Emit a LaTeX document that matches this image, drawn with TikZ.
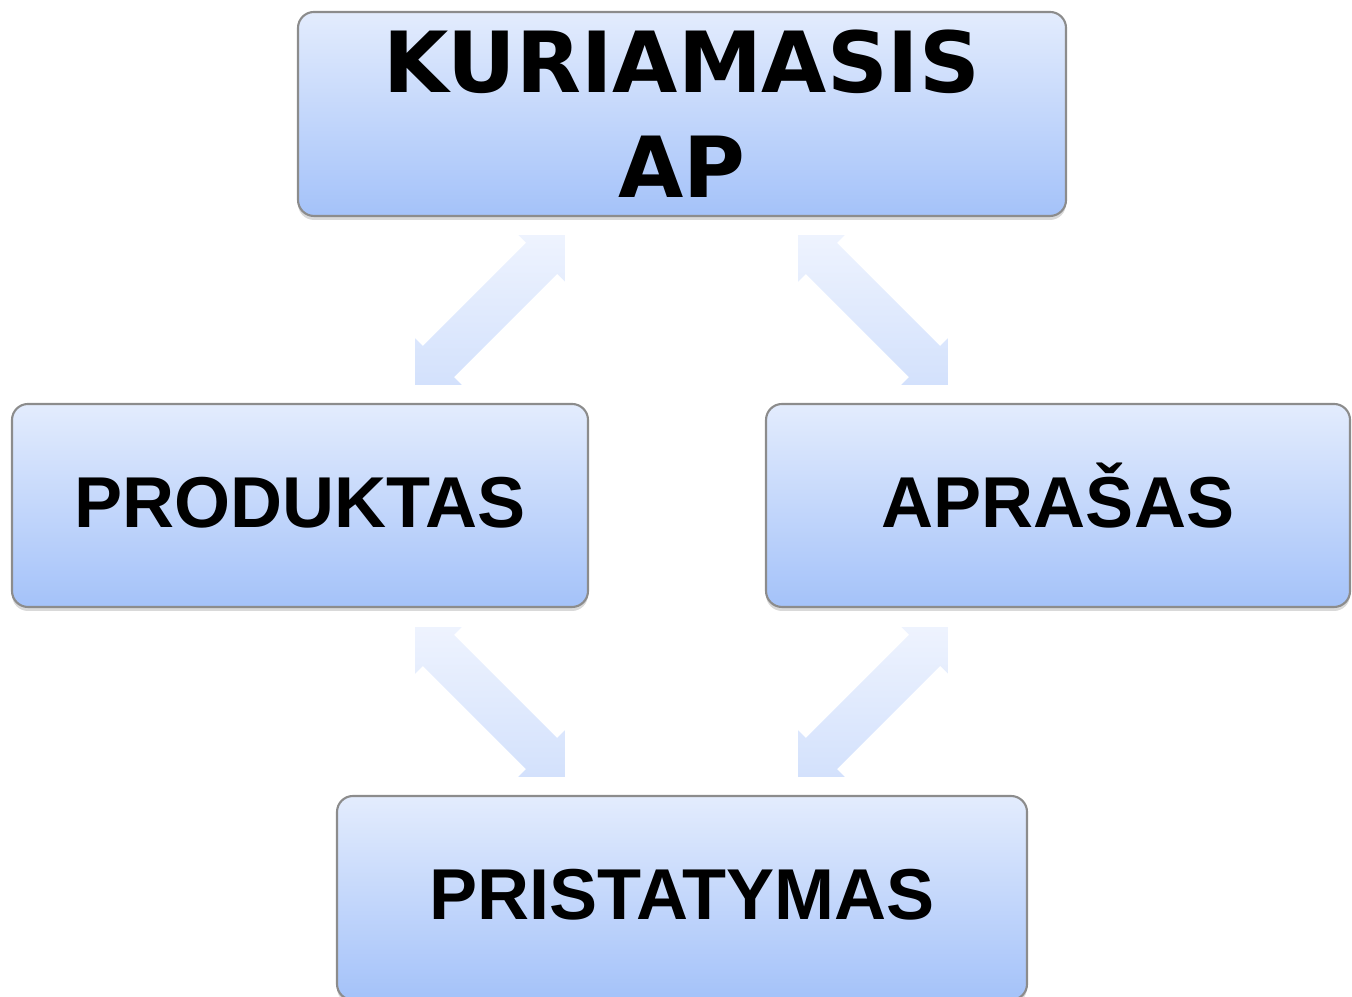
\documentclass[tikz,border=0pt]{standalone}
\usepackage{fontspec}
\setmainfont{Liberation Sans}
\newfontfamily\heavyfont{DejaVu Sans}
\usepackage{tikz}
\usetikzlibrary{shadows}

\definecolor{boxtop}{HTML}{E3ECFD}
\definecolor{boxbottom}{HTML}{A4C2F9}
\definecolor{boxline}{HTML}{8C8C8C}
\definecolor{arrowlight}{HTML}{EEF3FE}
\definecolor{arrowdark}{HTML}{D3E1FC}

\begin{document}
\begin{tikzpicture}[
    box/.style={draw=boxline, line width=0.6pt, rounded corners=0.16cm,
        top color=boxtop, bottom color=boxbottom, inner sep=0pt,
        text height=0.52cm, text depth=0.08cm,
        drop shadow={shadow xshift=0pt, shadow yshift=-0.04cm, opacity=0.3},
        font=\fontsize{20.5pt}{24pt}\selectfont\bfseries},
    blockarrow/.pic={
        \path[pic actions] (-1.06,0) -- (-0.73,0.33) -- (-0.73,0.22)
            -- (0.73,0.22) -- (0.73,0.33) -- (1.06,0) -- (0.73,-0.33)
            -- (0.73,-0.22) -- (-0.73,-0.22) -- (-0.73,-0.33) -- cycle;
    },
    arrowfill/.style={top color=arrowlight, bottom color=arrowdark},
    upward/.style={rotate=45, arrowfill,
        drop shadow={shadow xshift=0.0cm, shadow yshift=-0.03cm, opacity=0.12}},
    downward/.style={rotate=-45, arrowfill,
        drop shadow={shadow xshift=-0.03cm, shadow yshift=0.0cm, opacity=0.12}}
]
    \def\W{13.52}
    \def\H{9.97}
    \def\bh{2.03}

    \useasboundingbox (0,0) rectangle (\W,\H);

    % boxes
    \node[box, minimum width=7.68cm, minimum height=2.04cm, align=center,
        text height=, text depth=,
        font=\heavyfont\fontsize{24pt}{30pt}\selectfont\bfseries]
        (kuriamasis) at (6.82,8.83) {KURIAMASIS\\AP};
    \node[box, minimum width=5.76cm, minimum height=\bh cm]
        (produktas) at (3.00,4.915) {PRODUKTAS};
    \node[box, minimum width=5.84cm, minimum height=\bh cm]
        (aprasas) at (10.58,4.915) {APRAŠAS};
    \node[box, minimum width=6.90cm, minimum height=2.04cm]
        (pristatymas) at (6.82,0.99) {PRISTATYMAS};

    % block arrows between the boxes
    \pic[upward] (kp) at (4.90,6.87) {blockarrow};
    \pic[downward] (ka) at (8.73,6.87) {blockarrow};
    \pic[downward] (pp) at (4.90,2.95) {blockarrow};
    \pic[upward] (ap) at (8.73,2.95) {blockarrow};

\end{tikzpicture}
\end{document}
